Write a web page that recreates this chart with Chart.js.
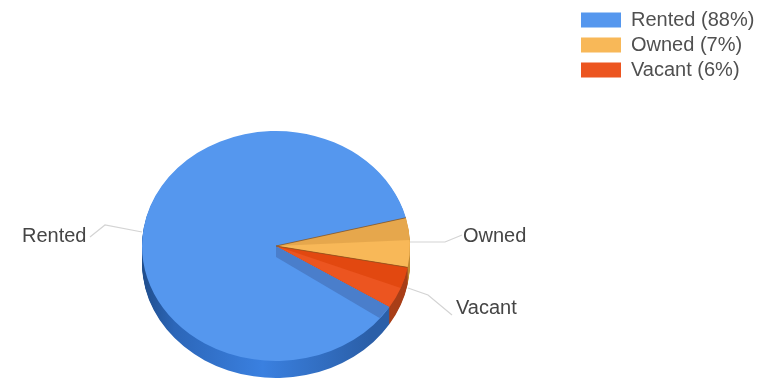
<!DOCTYPE html>
<html>
<head>
<meta charset="utf-8">
<style>
  html, body { margin: 0; padding: 0; background: #fff; }
  #wrap { width: 766px; height: 380px; }
</style>
<script src="https://cdn.jsdelivr.net/npm/chart.js@4/dist/chart.umd.js"></script>
</head>
<body>
<div id="wrap"><canvas id="myChart" width="766" height="380"></canvas></div>
<script>
const categories = ["Rented", "Owned", "Vacant"];
const percents = [88, 7, 6];
const topColors = ["#5597ee", "#f8b858", "#ec5520"];
const sideColors = ["#2f6ec4", "#c08a35", "#a83f18"];
const shadeColors = ["rgba(0,0,0,0)", "rgba(190,130,50,0.3)", "rgba(215,60,0,0.5)"];
const shadeShare = [0, 0.45, 0.5];

// tilted pie: the circle is squashed and given a rim
const squash = 0.858;
const depth = 17;
const pieBox = { left: 142, right: 410, top: 112, bottom: 380 };
const legendAt = { left: 576, top: 5 };

// label anchors and their leader lines
const labelSpots = [
  { x: 22, y: 236, align: "left", line: [[142, 232], [105, 225], [90, 237]] },
  { x: 463, y: 236, align: "left", line: [[410, 242], [445, 242], [462, 235]] },
  { x: 456, y: 308, align: "left", line: [[408, 288], [428, 295], [452, 315]] },
];

function sector(ctx, arc, from, to, dy) {
  ctx.beginPath();
  ctx.moveTo(arc.x, arc.y + dy);
  ctx.ellipse(arc.x, arc.y + dy, arc.outerRadius, arc.outerRadius * squash, 0, from, to);
  ctx.closePath();
}

const tiltedPie = {
  id: "tiltedPie",
  afterLayout(chart) {
    chart.chartArea = {
      left: pieBox.left, right: pieBox.right, top: pieBox.top, bottom: pieBox.bottom,
      width: pieBox.right - pieBox.left, height: pieBox.bottom - pieBox.top,
    };
    const lg = chart.legend;
    const w = lg.width, h = lg.height;
    lg.left = legendAt.left; lg.right = legendAt.left + w;
    lg.top = legendAt.top; lg.bottom = legendAt.top + h;
  },
  beforeDatasetDraw(chart) {
    const ctx = chart.ctx;
    const arcs = chart.getDatasetMeta(0).data;
    const cx = arcs[0].x, cy = arcs[0].y, r = arcs[0].outerRadius;

    // rim, stacked downwards from the lowest layer
    const rimBlue = ctx.createLinearGradient(cx - r, 0, cx + r, 0);
    rimBlue.addColorStop(0, "#1f4d8c");
    rimBlue.addColorStop(0.12, "#2c66b8");
    rimBlue.addColorStop(0.45, "#3a80e0");
    rimBlue.addColorStop(0.85, "#2b5fa8");
    rimBlue.addColorStop(1, "#2b5fa8");
    ctx.save();
    for (let d = depth; d >= 1; d--) {
      arcs.forEach((arc, i) => {
        ctx.fillStyle = i === 0 ? rimBlue : sideColors[i];
        sector(ctx, arc, arc.startAngle, arc.endAngle, d);
        ctx.fill();
      });
    }
    ctx.restore();

    ctx.save();
    ctx.translate(cx, cy);
    ctx.scale(1, squash);
    ctx.translate(-cx, -cy);
  },
  afterDatasetDraw(chart) {
    const ctx = chart.ctx;
    ctx.restore();

    const arcs = chart.getDatasetMeta(0).data;
    const cx = arcs[0].x, cy = arcs[0].y, r = arcs[0].outerRadius;

    // darker upper part of the small slices
    arcs.forEach((arc, i) => {
      if (!shadeShare[i]) return;
      ctx.fillStyle = shadeColors[i];
      const span = arc.endAngle - arc.startAngle;
      sector(ctx, arc, arc.startAngle, arc.startAngle + span * shadeShare[i], 0);
      ctx.fill();
    });

    // cut wall showing under the last slice
    const last = arcs[arcs.length - 1];
    const ex = cx + r * Math.cos(last.endAngle);
    const ey = cy + r * squash * Math.sin(last.endAngle);
    ctx.save();
    sector(ctx, arcs[0], arcs[0].startAngle, arcs[0].endAngle, 0);
    ctx.clip();
    ctx.fillStyle = "#4a7ecb";
    ctx.beginPath();
    ctx.moveTo(cx, cy);
    ctx.lineTo(ex, ey);
    ctx.lineTo(ex - 10, ey + 11);
    ctx.lineTo(cx, cy + 11);
    ctx.closePath();
    ctx.fill();
    ctx.restore();

    // seams between the slices
    ctx.strokeStyle = "rgba(130,80,30,0.7)";
    ctx.lineWidth = 1;
    arcs.slice(1).forEach((arc) => {
      ctx.beginPath();
      ctx.moveTo(cx, cy);
      ctx.lineTo(cx + r * Math.cos(arc.startAngle), cy + r * squash * Math.sin(arc.startAngle));
      ctx.stroke();
    });

    // leader lines and slice names
    ctx.font = "20px 'Liberation Sans', Arial, sans-serif";
    ctx.textBaseline = "middle";
    labelSpots.forEach((spot, i) => {
      ctx.strokeStyle = "#d4d4d4";
      ctx.lineWidth = 1.2;
      ctx.beginPath();
      spot.line.forEach((p, k) => (k ? ctx.lineTo(p[0], p[1]) : ctx.moveTo(p[0], p[1])));
      ctx.stroke();
      ctx.fillStyle = "#454545";
      ctx.textAlign = spot.align;
      ctx.fillText(categories[i], spot.x, spot.y);
    });
  },
};

let ctx = document.getElementById("myChart").getContext("2d");
let myChart = new Chart(ctx, {
  type: "pie",
  data: {
    labels: categories,
    datasets: [
      {
        data: percents,
        backgroundColor: topColors,
        borderWidth: 0,
      },
    ],
  },
  options: {
    responsive: false,
    animation: false,
    rotation: 122.1,
    plugins: {
      tooltip: { enabled: false },
      legend: {
        position: "right",
        align: "start",
        labels: {
          boxWidth: 40,
          boxHeight: 15,
          padding: 5,
          font: { family: "'Liberation Sans', Arial, sans-serif", size: 20 },
          generateLabels() {
            return categories.map((name, i) => ({
              text: `${name} (${percents[i]}%)`,
              fillStyle: topColors[i],
              strokeStyle: topColors[i],
              fontColor: "#505050",
              lineWidth: 0,
              index: i,
            }));
          },
        },
      },
    },
  },
  plugins: [tiltedPie],
});
</script>
</body>
</html>
